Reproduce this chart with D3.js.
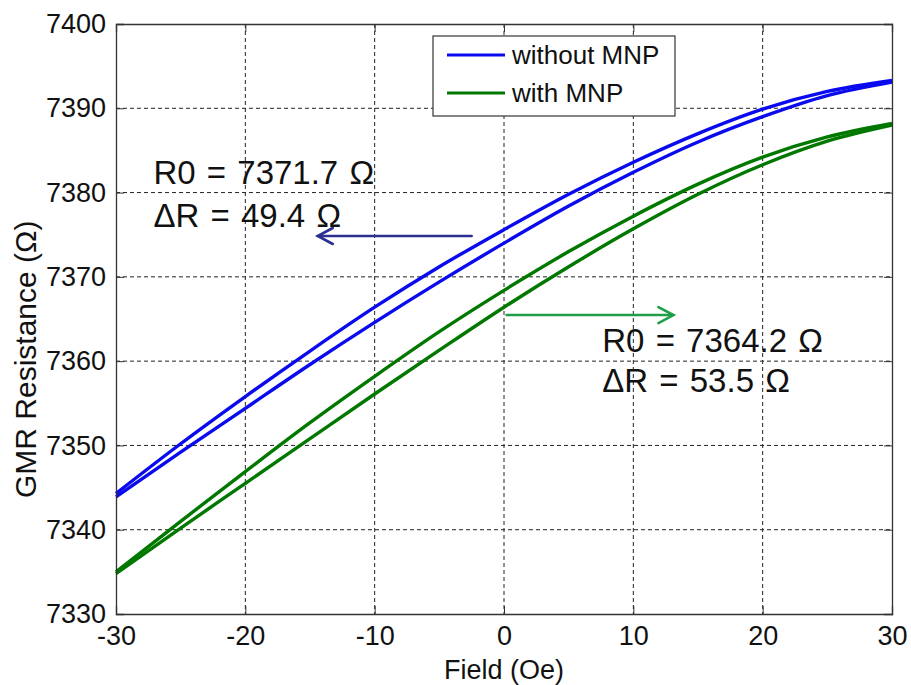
<!DOCTYPE html>
<html>
<head>
<meta charset="utf-8">
<script src="https://cdn.jsdelivr.net/npm/d3@7"></script>
<style>
  body { margin: 0; background: #fff; }
  text { font-family: "Liberation Sans", Arial, Helvetica, sans-serif; fill: #111; }
</style>
</head>
<body>
<svg id="chart" width="911" height="685"></svg>
<script>
// Field sweep (Oe) at which the resistance of each branch is sampled
const fieldOe = [-30, -25, -20, -15, -10, -5, 0, 5, 10, 15, 20, 25, 30];

// GMR resistance (Ohm), sensor without nanoparticles
const withoutMnpUpper = [7344.3, 7350.2, 7355.8, 7361.2, 7366.4, 7371.2, 7375.6, 7379.8, 7383.6, 7387.0, 7389.9, 7392.0, 7393.3];
const withoutMnpLower = [7343.9, 7349.2, 7354.4, 7359.6, 7364.6, 7369.4, 7374.0, 7378.4, 7382.4, 7386.0, 7389.0, 7391.5, 7393.1];

// GMR resistance (Ohm), sensor with nanoparticles
const withMnpUpper = [7335.0, 7341.0, 7346.9, 7352.7, 7358.2, 7363.5, 7368.4, 7373.0, 7377.2, 7381.0, 7384.2, 7386.6, 7388.2];
const withMnpLower = [7334.8, 7340.2, 7345.5, 7350.8, 7356.1, 7361.3, 7366.4, 7371.2, 7375.7, 7379.8, 7383.3, 7386.1, 7388.0];

const seriesNames = ["without MNP", "with MNP"];
const xTicks = [-30, -20, -10, 0, 10, 20, 30];
const yTicks = [7330, 7340, 7350, 7360, 7370, 7380, 7390, 7400];

// Callouts: text lines anchored in data units, arrows from/to in data units
const calloutLines = [
  { field: -27.1, r: 7381.0, text: "R0 = 7371.7 \u03A9" },
  { field: -27.1, r: 7375.9, text: "\u0394R = 49.4 \u03A9" },
  { field: 7.6,   r: 7361.1, text: "R0 = 7364.2 \u03A9" },
  { field: 7.6,   r: 7356.3, text: "\u0394R = 53.5 \u03A9" }
];
const calloutArrows = [
  { from: [-2.5, 7374.85], to: [-14.4, 7374.85], color: "#2b2f8f" },
  { from: [0.2, 7365.47],  to: [13.1, 7365.47],  color: "#1f9e4a" }
];

const colors = { "without MNP": "#0a0aee", "with MNP": "#007800" };

const svg = d3.select("#chart");
const margin = { left: 116, right: 19, top: 24, bottom: 71 };
const W = 911, H = 685;
const x = d3.scaleLinear().domain([-30, 30]).range([margin.left, W - margin.right]);
const y = d3.scaleLinear().domain([7330, 7400]).range([H - margin.bottom, margin.top]);

svg.append("rect").attr("width", W).attr("height", H).attr("fill", "#fff");

// dotted grid
const grid = svg.append("g").attr("stroke", "#222").attr("stroke-width", 1).attr("stroke-dasharray", "4,3");
grid.selectAll("line.gx").data(xTicks.slice(1, -1)).join("line")
  .attr("x1", d => x(d)).attr("x2", d => x(d))
  .attr("y1", y(7400)).attr("y2", y(7330));
grid.selectAll("line.gy").data(yTicks.slice(1, -1)).join("line")
  .attr("y1", d => y(d)).attr("y2", d => y(d))
  .attr("x1", x(-30)).attr("x2", x(30));

// curves: both sweep branches of each loop
const line = d3.line().x(d => x(d[0])).y(d => y(d[1])).curve(d3.curveMonotoneX);
const branches = [
  { name: "with MNP", values: withMnpUpper },
  { name: "with MNP", values: withMnpLower },
  { name: "without MNP", values: withoutMnpUpper },
  { name: "without MNP", values: withoutMnpLower }
];
svg.append("g").selectAll("path").data(branches).join("path")
  .attr("d", b => line(fieldOe.map((f, i) => [f, b.values[i]])))
  .attr("fill", "none")
  .attr("stroke", b => colors[b.name])
  .attr("stroke-width", 3.4)
  .attr("stroke-linejoin", "round");

// axes (inward ticks, box on all sides)
const tickLen = 8;
const plainNum = d => String(d);   // hyphen-minus, as in the printed labels
const axB = svg.append("g").attr("transform", `translate(0,${y(7330)})`)
  .call(d3.axisBottom(x).tickValues(xTicks).tickSize(-tickLen).tickPadding(12).tickFormat(plainNum));
const axT = svg.append("g").attr("transform", `translate(0,${y(7400)})`)
  .call(d3.axisTop(x).tickValues(xTicks).tickSize(-tickLen).tickFormat(""));
const axL = svg.append("g").attr("transform", `translate(${x(-30)},0)`)
  .call(d3.axisLeft(y).tickValues(yTicks).tickSize(-tickLen).tickPadding(10).tickFormat(plainNum));
const axR = svg.append("g").attr("transform", `translate(${x(30)},0)`)
  .call(d3.axisRight(y).tickValues(yTicks).tickSize(-tickLen).tickFormat(""));
[axB, axT, axL, axR].forEach(a => {
  a.select(".domain").attr("stroke", "#333").attr("stroke-width", 1.3);
  a.selectAll(".tick line").attr("stroke", "#333");
  a.selectAll("text").attr("font-size", 27).attr("fill", "#111")
    .attr("font-family", "'Liberation Sans', Arial, sans-serif");
});

// axis titles
svg.append("text")
  .attr("x", x(0)).attr("y", 679)
  .attr("text-anchor", "middle").attr("font-size", 27)
  .text("Field (Oe)");
svg.append("text")
  .attr("transform", `translate(36,498) rotate(-90)`)
  .attr("text-anchor", "start").attr("font-size", 30)
  .text("GMR Resistance (\u03A9)");

// legend
const lg = svg.append("g").attr("transform", "translate(433,36)");
lg.append("rect").attr("width", 242).attr("height", 80)
  .attr("fill", "#fff").attr("stroke", "#333").attr("stroke-width", 1.2);
seriesNames.forEach((n, i) => {
  const cy = 19 + i * 38;
  lg.append("line").attr("x1", 14).attr("x2", 72).attr("y1", cy).attr("y2", cy)
    .attr("stroke", colors[n]).attr("stroke-width", 3);
  lg.append("text").attr("x", 79).attr("y", cy + 9).attr("font-size", 26).text(n);
});

// callout text
svg.append("g").selectAll("text").data(calloutLines).join("text")
  .attr("x", d => x(d.field)).attr("y", d => y(d.r))
  .attr("font-size", 33)
  .attr("word-spacing", 2)
  .text(d => d.text);

// callout arrows with open heads
const ag = svg.append("g").attr("fill", "none").attr("stroke-width", 2.6).attr("stroke-linecap", "round");
calloutArrows.forEach(a => {
  const x0 = x(a.from[0]), y0 = y(a.from[1]), x1 = x(a.to[0]), y1 = y(a.to[1]);
  const dir = Math.sign(x1 - x0);
  ag.append("line").attr("x1", x0).attr("y1", y0).attr("x2", x1).attr("y2", y1).attr("stroke", a.color);
  ag.append("path")
    .attr("d", `M${x1 - dir * 15},${y1 - 8}L${x1},${y1}L${x1 - dir * 15},${y1 + 8}`)
    .attr("stroke", a.color).attr("stroke-linejoin", "miter");
});
</script>
</body>
</html>
